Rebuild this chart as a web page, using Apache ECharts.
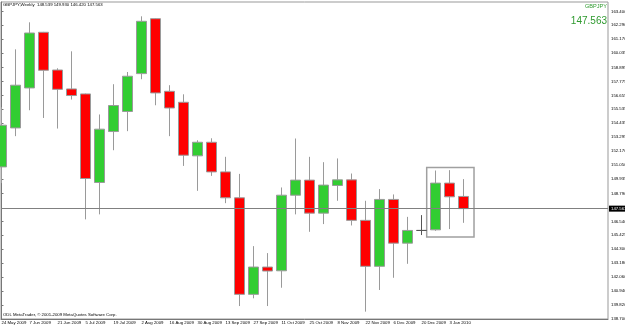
<!DOCTYPE html>
<html>
<head>
<meta charset="utf-8">
<script src="https://cdn.jsdelivr.net/npm/echarts@6/dist/echarts.min.js"></script>
<style>
  html, body { margin: 0; padding: 0; background: #fff; }
  #main { width: 625px; height: 327px; }
</style>
</head>
<body>
<div id="main"></div>
<script>
// weekly bars, GBPJPY
var weeks = ['24 May 2009', '31 May 2009', '7 Jun 2009', '14 Jun 2009', '21 Jun 2009', '28 Jun 2009',
  '5 Jul 2009', '12 Jul 2009', '19 Jul 2009', '26 Jul 2009', '2 Aug 2009', '9 Aug 2009',
  '16 Aug 2009', '23 Aug 2009', '30 Aug 2009', '6 Sep 2009', '13 Sep 2009', '20 Sep 2009',
  '27 Sep 2009', '4 Oct 2009', '11 Oct 2009', '18 Oct 2009', '25 Oct 2009', '1 Nov 2009',
  '8 Nov 2009', '15 Nov 2009', '22 Nov 2009', '29 Nov 2009', '6 Dec 2009', '13 Dec 2009',
  '20 Dec 2009', '27 Dec 2009', '3 Jan 2010', '10 Jan 2010'];

var opens  = [150.91, 154.04, 157.25, 161.72, 158.69, 157.17, 156.77, 149.66, 153.75, 155.36, 158.40, 162.81,
  156.98, 156.10, 151.80, 152.89, 150.51, 148.43, 140.68, 142.87, 142.57, 148.64, 149.85, 147.20,
  149.42, 149.87, 146.62, 142.93, 148.30, 144.79, 145.81, 145.86, 149.61, 148.539];
var closes = [154.26, 157.47, 161.66, 158.67, 157.14, 156.64, 149.98, 153.94, 155.84, 158.19, 162.60, 156.85,
  155.64, 151.85, 152.89, 150.51, 148.43, 140.68, 142.87, 142.55, 148.64, 149.85, 147.20, 149.45,
  149.87, 146.62, 142.93, 148.30, 144.79, 145.81, 145.81, 149.61, 148.51, 147.563];
var lows   = [149.61, 153.38, 155.46, 154.84, 153.99, 156.32, 146.70, 147.10, 152.25, 153.78, 157.95, 155.86,
  153.38, 150.99, 148.99, 150.19, 148.00, 139.74, 140.36, 139.74, 141.21, 147.10, 145.70, 146.32,
  148.19, 146.21, 139.29, 141.03, 142.01, 143.13, 145.44, 145.78, 145.92, 146.420];
var highs  = [155.70, 160.35, 162.52, 161.75, 158.83, 160.19, 156.80, 155.12, 157.55, 158.53, 163.00, 162.85,
  157.47, 156.74, 153.05, 153.21, 151.72, 150.35, 144.55, 143.99, 149.26, 153.19, 151.72, 151.29,
  151.59, 150.38, 148.19, 149.13, 148.70, 146.90, 147.04, 150.62, 150.65, 149.930];

var priceTicks = [138.700, 139.820, 140.940, 142.060, 143.180, 144.300, 145.425, 146.540, 148.790,
  149.935, 151.050, 152.170, 153.295, 154.435, 155.535, 156.655, 157.775, 158.895, 160.035,
  161.170, 162.290, 163.400];
var dateTicks = [0, 2, 4, 6, 8, 10, 12, 14, 16, 18, 20, 22, 24, 26, 28, 30, 32];

var lastPrice = 147.563;
var boxFrom = [30.37, 150.87];
var boxTo = [33.75, 145.28];

var candleData = [];
for (var i = 0; i < weeks.length; i++) {
  candleData.push([i, opens[i], closes[i], lows[i], highs[i]]);
}

var dom = document.getElementById('main');
var myChart = echarts.init(dom, null, { renderer: 'canvas' });
var smallFont = 'Liberation Sans';
var smallSize = 4.3;

var option = {
  animation: false,
  backgroundColor: '#ffffff',
  title: [
    {
      text: 'GBPJPY,Weekly  148.539 149.930 146.420 147.563',
      left: 3, top: 3, padding: 0,
      textStyle: { fontSize: smallSize, fontWeight: 'normal', color: '#000', fontFamily: smallFont }
    },
    {
      text: 'ODL MetaTrader, \u00a9 2001-2009 MetaQuotes Software Corp.',
      left: 3, top: 313, padding: 0,
      textStyle: { fontSize: smallSize, fontWeight: 'normal', color: '#000', fontFamily: smallFont }
    },
    {
      text: 'GBPJPY',
      right: 18, top: 3, padding: 0,
      textStyle: { fontSize: 5.6, fontWeight: 'normal', color: '#2f9a2f', fontFamily: smallFont }
    },
    {
      text: '147.563',
      right: 18, top: 16, padding: 0,
      textStyle: { fontSize: 10, fontWeight: 'normal', color: '#2f9a2f', fontFamily: smallFont }
    }
  ],
  grid: {
    left: 1, right: 17, top: 2, bottom: 8,
    outerBoundsMode: 'none',
    containLabel: false,
    show: true, borderColor: '#999', borderWidth: 1
  },
  xAxis: {
    type: 'value',
    min: -0.0357,
    max: 43.32,
    axisLine: { show: true, lineStyle: { color: '#777' } },
    axisTick: { show: false },
    splitLine: { show: false },
    axisLabel: {
      customValues: dateTicks,
      showMinLabel: true,
      hideOverlap: false,
      margin: 2,
      align: 'left',
      fontSize: smallSize,
      color: '#000',
      fontFamily: smallFont,
      formatter: function (v) { return weeks[Math.round(v)] || ''; }
    }
  },
  yAxis: {
    type: 'value',
    position: 'right',
    min: 138.7,
    max: 164.15,
    axisLine: { show: true, lineStyle: { color: '#777' } },
    axisTick: { show: true, length: 2, customValues: priceTicks, lineStyle: { color: '#777' } },
    splitLine: { show: false },
    axisLabel: {
      customValues: priceTicks,
      showMinLabel: true,
      showMaxLabel: true,
      hideOverlap: false,
      margin: 3,
      fontSize: smallSize,
      color: '#000',
      fontFamily: smallFont,
      formatter: function (v) { return v.toFixed(3); }
    }
  },
  series: [{
    type: 'candlestick',
    data: candleData,
    barWidth: 11,
    itemStyle: {
      color: '#32cd32',
      color0: '#ff0000',
      borderColor: '#9a9a9a',
      borderColor0: '#9a9a9a',
      borderColorDoji: '#555',
      borderWidth: 1
    },
    markLine: {
      silent: true,
      symbol: 'none',
      lineStyle: { color: '#808080', type: 'solid', width: 1 },
      label: {
        position: 'end',
        distance: 1,
        formatter: function () { return lastPrice.toFixed(3); },
        backgroundColor: '#000',
        color: '#fff',
        fontSize: smallSize,
        fontFamily: smallFont,
        padding: [1, 2]
      },
      data: [{ yAxis: lastPrice }]
    },
    markArea: {
      silent: true,
      itemStyle: { color: 'rgba(0,0,0,0)', borderColor: '#a0a0a0', borderWidth: 1.5 },
      data: [[{ coord: boxFrom }, { coord: boxTo }]]
    }
  }]
};

myChart.setOption(option);
window.addEventListener('resize', myChart.resize);
</script>
</body>
</html>
